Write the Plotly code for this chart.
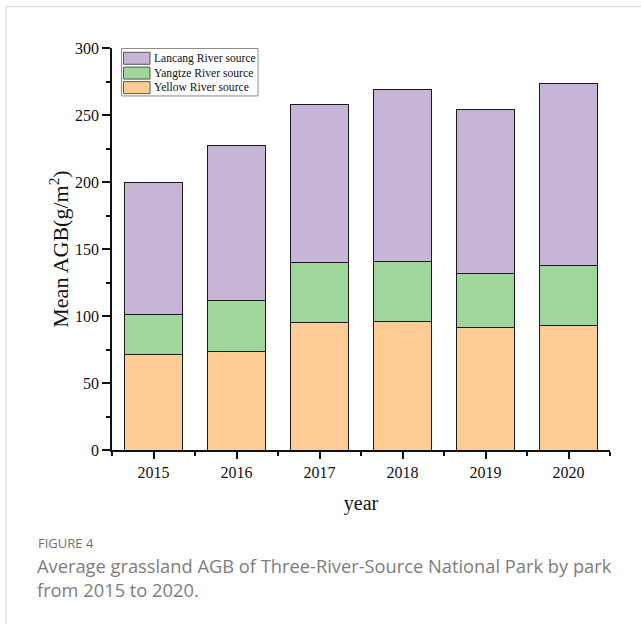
import plotly.graph_objects as go

years = [2015, 2016, 2017, 2018, 2019, 2020]
yellow = [71.1, 73.3, 95.2, 95.7, 91.2, 92.7]
yangtze = [30.3, 38.0, 44.4, 44.9, 40.7, 44.7]
lancang = [98.6, 116.3, 118.1, 128.2, 122.1, 136.4]

series_names = ["Yellow River source", "Yangtze River source", "Lancang River source"]
series_values = [yellow, yangtze, lancang]
series_colors = ["#FFCC95", "#9ED69C", "#C6B5D7"]

caption_label = "FIGURE 4"
caption_lines = ["Average grassland AGB of Three-River-Source National Park by park",
                 "from 2015 to 2020."]

SERIF = "Liberation Serif"
SANS = "Open Sans"

fig = go.Figure()
for name, vals, col in zip(series_names, series_values, series_colors):
    fig.add_trace(go.Bar(
        x=years, y=vals, name=name, width=0.7,
        marker=dict(color=col, line=dict(color="#1a1a1a", width=1)),
        showlegend=False,
    ))

# plot-area geometry in pixels (for converting layout positions)
L, R, T, B = 112, 610, 47.5, 450
def px(x):
    return (x - L) / (R - L)
def py(y):
    return (B - y) / (B - T)

shapes = []
annotations = []

# manual legend (top to bottom: Lancang, Yangtze, Yellow)
shapes.append(dict(type="rect", xref="paper", yref="paper",
                   x0=px(121.5), x1=px(258), y0=py(95.5), y1=py(48),
                   line=dict(color="#8c8c8c", width=1), fillcolor="white"))
row_centers = [57.8, 72.6, 87.2]
for yc, name, col in zip(row_centers, series_names[::-1], series_colors[::-1]):
    shapes.append(dict(type="rect", xref="paper", yref="paper",
                       x0=px(123.5), x1=px(150), y0=py(yc + 6), y1=py(yc - 6),
                       line=dict(color="#555555", width=1), fillcolor=col))
    annotations.append(dict(text=name, xref="paper", yref="paper",
                            x=px(151.5), y=py(yc), xanchor="left", yanchor="middle",
                            showarrow=False, font=dict(family=SERIF, size=11.6, color="#111")))

# page border lines
shapes.append(dict(type="line", xref="paper", yref="paper",
                   x0=px(6), x1=px(641), y0=py(6), y1=py(6),
                   line=dict(color="#d4d4d4", width=1)))
shapes.append(dict(type="line", xref="paper", yref="paper",
                   x0=px(6), x1=px(6), y0=py(6), y1=py(624),
                   line=dict(color="#d4d4d4", width=1)))

# caption
annotations.append(dict(text=caption_label, xref="paper", yref="paper",
                        x=px(36), y=py(543), xanchor="left", yanchor="middle",
                        showarrow=False, font=dict(family=SANS, size=13, color="#707070")))
annotations.append(dict(text="<br>".join(caption_lines), xref="paper", yref="paper", align="left",
                        x=px(35), y=py(578), xanchor="left", yanchor="middle",
                        showarrow=False, font=dict(family=SANS, size=18.3, color="#7d7d7d")))

fig.update_layout(
    width=641, height=624,
    margin=dict(l=L, r=641 - R, t=T, b=624 - B),
    paper_bgcolor="white", plot_bgcolor="white",
    barmode="stack",
    font=dict(family=SERIF, color="#111"),
    shapes=shapes,
    annotations=annotations,
    showlegend=False,
)
fig.update_xaxes(
    range=[2014.5, 2020.5], tickvals=years, ticktext=[str(y) for y in years],
    showline=True, linecolor="#111", linewidth=1.5,
    ticks="outside", ticklen=7, tickwidth=1.5, tickcolor="#111",
    minor=dict(tick0=2014.5, dtick=1, ticks="outside", ticklen=4, tickwidth=1.5, tickcolor="#111"),
    showgrid=False, zeroline=False,
    tickfont=dict(family=SERIF, size=16, color="#111"),
    title=dict(text="year", font=dict(family=SERIF, size=20, color="#111"), standoff=16),
)
fig.update_yaxes(
    range=[0, 300], dtick=50, tick0=0,
    showline=True, linecolor="#111", linewidth=1.5,
    ticks="outside", ticklen=8, tickwidth=1.5, tickcolor="#111",
    minor=dict(dtick=25, ticks="outside", ticklen=4, tickwidth=1.5, tickcolor="#111"),
    showgrid=False, zeroline=False,
    tickfont=dict(family=SERIF, size=16, color="#111"),
    title=dict(text="Mean AGB(g/m<sup>2</sup>)", font=dict(family=SERIF, size=22, color="#111"), standoff=0),
)

fig.write_html("out.html")
